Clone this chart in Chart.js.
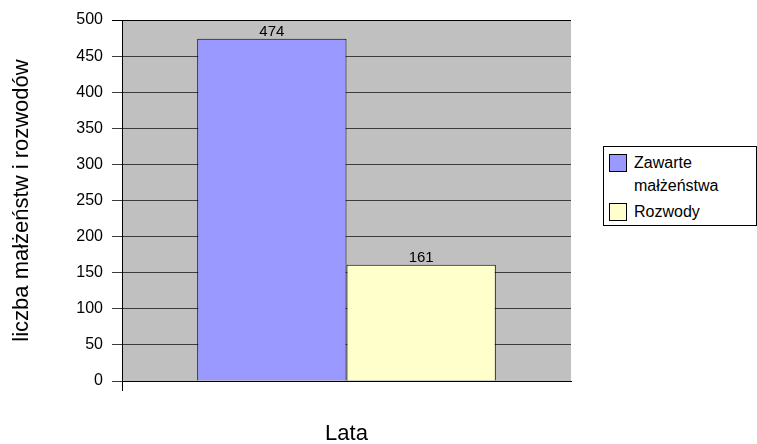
<!DOCTYPE html>
<html>
<head>
<meta charset="utf-8">
<script src="https://cdn.jsdelivr.net/npm/chart.js@4/dist/chart.umd.min.js"></script>
<style>
  body { margin: 0; background: #fff; }
  #wrap { position: relative; width: 757px; height: 444px; }
  #legend {
    position: absolute; left: 603px; top: 146px; width: 152px; height: 78px;
    border: 1px solid #000; background: #fff;
    font-family: "Liberation Sans", Arial, sans-serif; font-size: 16px; color: #000;
  }
  .item { position: absolute; left: 5px; display: flex; align-items: flex-start; }
  .sw { width: 16px; height: 16px; border: 1px solid #000; margin-right: 7px; margin-top: 0px; }
  .txt { line-height: 23px; margin-top: -3px; }
</style>
</head>
<body>
<div id="wrap">
  <canvas id="myChart" width="757" height="444"></canvas>
  <div id="legend"></div>
</div>
<script>
const ctx = document.getElementById('myChart').getContext('2d');

const categories = [''];
const seriesNames = ['Zawarte\nmałżeństwa', 'Rozwody'];
const marriages = [474];
const divorces = [161];
const seriesColors = ['#9999FF', '#FFFFCC'];

const fontFamily = '"Liberation Sans", Arial, sans-serif';

// grey plot background like the old Excel chart
const plotBg = {
    id: 'plotBg',
    beforeDraw(chart) {
        const a = chart.chartArea;
        chart.ctx.save();
        chart.ctx.fillStyle = '#C0C0C0';
        chart.ctx.fillRect(a.left, a.top, a.right - a.left, a.bottom - a.top);
        chart.ctx.restore();
    }
};

// numbers above the bars
const valueLabels = {
    id: 'valueLabels',
    afterDatasetsDraw(chart) {
        const c = chart.ctx;
        c.save();
        c.font = '15px ' + fontFamily;
        c.fillStyle = '#000';
        c.textAlign = 'center';
        c.textBaseline = 'alphabetic';
        chart.data.datasets.forEach((ds, i) => {
            chart.getDatasetMeta(i).data.forEach((bar, j) => {
                c.fillText(ds.data[j], bar.x, bar.y - 3);
            });
        });
        c.restore();
    }
};

const chart = new Chart(ctx, {
    type: 'bar',
    data: {
        labels: categories,
        datasets: [
            {
                label: seriesNames[0],
                data: marriages,
                backgroundColor: seriesColors[0],
                borderColor: '#000',
                borderWidth: 1,
                categoryPercentage: 0.665,
                barPercentage: 1
            },
            {
                label: seriesNames[1],
                data: divorces,
                backgroundColor: seriesColors[1],
                borderColor: '#000',
                borderWidth: 1,
                categoryPercentage: 0.665,
                barPercentage: 1
            }
        ]
    },
    options: {
        responsive: false,
        animation: false,
        layout: {
            padding: { left: 0, right: 186, top: 20, bottom: 0 }
        },
        scales: {
            x: {
                afterFit: s => { s.height = 63; },
                ticks: { display: false },
                grid: {
                    drawOnChartArea: false,
                    tickLength: 10,
                    color: c => c.index === 0 ? '#000' : 'rgba(0,0,0,0)'
                },
                border: { color: '#000' },
                title: {
                    display: true,
                    text: 'Lata',
                    color: '#000',
                    font: { family: fontFamily, size: 22, lineHeight: '20px' },
                    padding: { top: 0, bottom: 0 }
                }
            },
            y: {
                min: 0,
                max: 500,
                afterFit: s => { s.width = 122; },
                ticks: {
                    stepSize: 50,
                    padding: 9,
                    color: '#000',
                    font: { family: fontFamily, size: 16 }
                },
                grid: {
                    color: c => c.tick && c.tick.value === 500 ? '#000' : '#3c3c3c',
                    tickLength: 10
                },
                border: { color: '#000' },
                title: {
                    display: true,
                    text: 'liczba małżeństw i rozwodów',
                    color: '#000',
                    font: { family: fontFamily, size: 22 },
                    padding: { top: 9, bottom: 0 }
                }
            }
        },
        plugins: {
            legend: { display: false },
            tooltip: { enabled: false }
        }
    },
    plugins: [plotBg, valueLabels]
});

// html legend box on the right
const legend = document.getElementById('legend');
const tops = [7, 56];
chart.data.datasets.forEach((ds, i) => {
    const item = document.createElement('div');
    item.className = 'item';
    item.style.top = tops[i] + 'px';
    item.innerHTML = '<div class="sw" style="background:' + ds.backgroundColor + '"></div>' +
        '<div class="txt">' + ds.label.replace('\n', '<br>') + '</div>';
    legend.appendChild(item);
});
</script>
</body>
</html>
